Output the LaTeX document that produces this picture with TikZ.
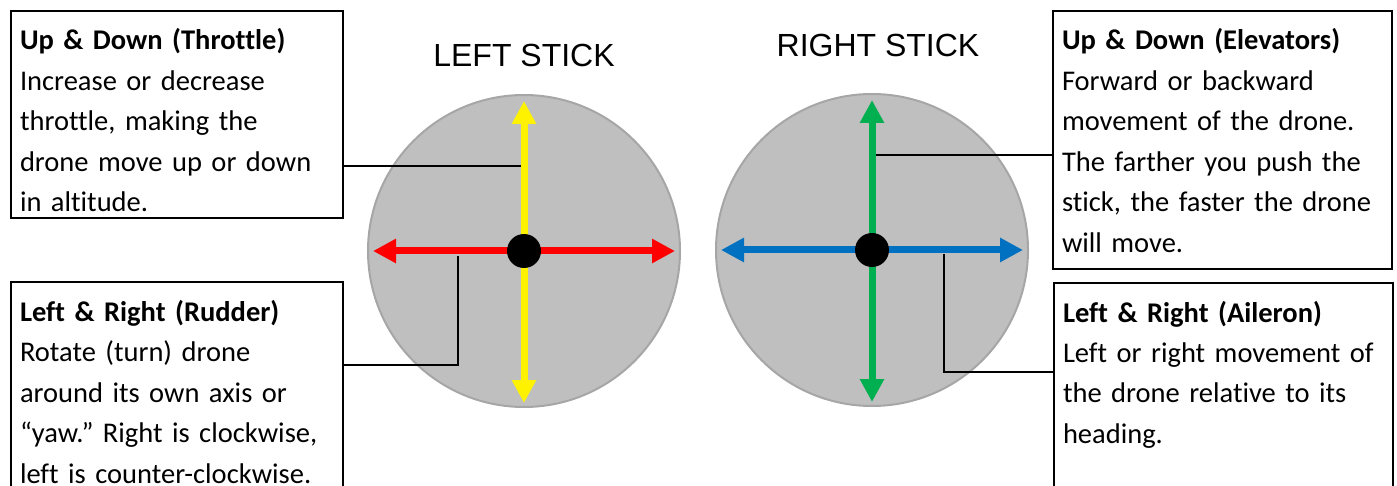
\documentclass[tikz,border=0pt]{standalone}
\usepackage{fontspec}
\setmainfont{Carlito}[Ligatures=NoCommon]
\newfontfamily\arialfont{Liberation Sans}
\usetikzlibrary{arrows.meta, positioning, calc}

\definecolor{padgray}{HTML}{BFBFBF}
\definecolor{rimgray}{HTML}{A6A6A6}
\definecolor{stickgreen}{HTML}{00B050}
\definecolor{stickblue}{HTML}{0070C0}

\newcommand{\tailstrut}[1]{\rule[-#1]{0pt}{#1}}
\frenchspacing

\tikzset{
  infobox/.style={draw, line width=2pt, anchor=north west, align=left,
    inner xsep=9pt, inner ysep=6pt, text width=#1,
    font=\fontsize{28.5}{40.5}\selectfont,
    execute at begin node={\rule{0pt}{33pt}}},
  stickpad/.style={circle, fill=padgray, draw=rimgray, line width=2pt,
    minimum size=312pt, inner sep=0pt},
  movearrow/.style={line width=7pt,
    {Triangle[length=23pt,width=23pt]}-{Triangle[length=23pt,width=23pt]}},
  leader/.style={line width=2pt},
  sticktitle/.style={font=\arialfont\fontsize{32}{38}\selectfont}
}

\begin{document}
\begin{tikzpicture}[x=1pt, y=-1pt]
  \useasboundingbox (0,0) rectangle (1397,486);

  % the two sticks
  \foreach \cx/\cy/\hcol/\vcol/\nm in {524/251/red/yellow/L, 872/250/stickblue/stickgreen/R}
  {
    \node[stickpad] (pad\nm) at (\cx,\cy) {};
    \draw[movearrow, \hcol] (\cx-151,\cy) -- (\cx+151,\cy);
    \draw[movearrow, \vcol] (\cx,\cy-150) -- (\cx,\cy+152);
    \node[circle, fill=black, minimum size=34pt, inner sep=0pt] (dot\nm) at (\cx,\cy) {};
  }
  \node[sticktitle] (ltitle) at (524,55) {LEFT STICK};
  \node[sticktitle] (rtitle) at (878,45) {RIGHT STICK};

  % text boxes
  \node[infobox=314pt] (throttle) at (10,10)
    {\textbf{Up \& Down (Throttle)}\\ Increase or decrease\\ throttle, making the\\
     drone move up or down\\ in altitude.};
  \node[infobox=314pt] (rudder) at (10,281)
    {\textbf{Left \& Right (Rudder)}\\ Rotate (turn) drone\\ around its own axis or\\
     “yaw.” Right is clockwise,\\ left is counter-clockwise.\tailstrut{40pt}};
  \node[infobox=321pt] (elevator) at (1052,10)
    {\textbf{Up \& Down (Elevators)}\\ Forward or backward\\ movement of the drone.\\
     The farther you push the\\ stick, the faster the drone\\ will move.\tailstrut{11pt}};
  \node[infobox=321pt] (aileron) at (1053,282)
    {\textbf{Left \& Right (Aileron)}\\ Left or right movement of\\
     the drone relative to its\\ heading.\tailstrut{80pt}};

  % leader lines
  \coordinate (thrL) at (521,166);
  \draw[leader] (thrL) -- (thrL -| throttle.east);
  \coordinate (rudL) at (458,256);
  \coordinate (rudK) at (458,365);
  \draw[leader] (rudL) -- (rudK) -- (rudK -| rudder.east);
  \coordinate (elvL) at (876,155);
  \draw[leader] (elvL) -- (elvL -| elevator.west);
  \coordinate (ailL) at (944,254);
  \coordinate (ailK) at (944,372);
  \draw[leader] (ailL) -- (ailK) -- (ailK -| aileron.west);
\end{tikzpicture}
\end{document}
